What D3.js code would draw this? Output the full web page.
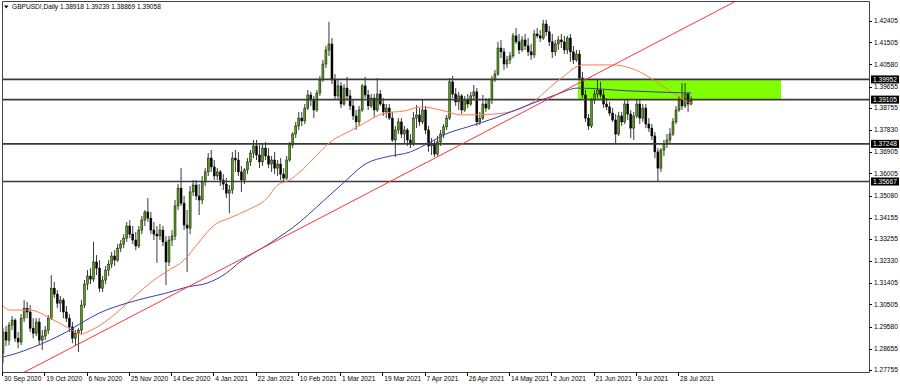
<!DOCTYPE html>
<meta charset="utf-8">
<style>
body { margin: 0; background: #fff; }
svg text { font-family: 'Liberation Sans', Arial, sans-serif; font-size: 6.6px; fill: #000; }
</style>
<body>
<script src="https://d3js.org/d3.v7.min.js"></script>
<script>
var width = 900
var height = 386

var symbol = 'GBPUSD!,Daily'

// daily bars, oldest first: open, high, low, close
var ohlc = [
  [1.2846, 1.2951, 1.2804, 1.2935], [1.2935, 1.2960, 1.2876, 1.2901], [1.2901, 1.2977, 1.2880, 1.2964],
  [1.2964, 1.3002, 1.2943, 1.2985], [1.2985, 1.2993, 1.2893, 1.2909], [1.2909, 1.2935, 1.2867, 1.2893],
  [1.2893, 1.3010, 1.2880, 1.2993], [1.2993, 1.3069, 1.2977, 1.3035], [1.3035, 1.3061, 1.2993, 1.3019],
  [1.3019, 1.3048, 1.2935, 1.2951], [1.2951, 1.2993, 1.2909, 1.2930], [1.2930, 1.2993, 1.2918, 1.2977],
  [1.2977, 1.2993, 1.2880, 1.2901], [1.2901, 1.2943, 1.2859, 1.2918], [1.2918, 1.2960, 1.2901, 1.2943],
  [1.2943, 1.3006, 1.2926, 1.2993], [1.2993, 1.3174, 1.2985, 1.3119], [1.3119, 1.3145, 1.3078, 1.3094],
  [1.3094, 1.3111, 1.3035, 1.3056], [1.3056, 1.3086, 1.3019, 1.3069], [1.3069, 1.3078, 1.2993, 1.3019],
  [1.3019, 1.3044, 1.2977, 1.2993], [1.2993, 1.3010, 1.2935, 1.2956], [1.2956, 1.2977, 1.2888, 1.2909],
  [1.2909, 1.2943, 1.2876, 1.2930], [1.2930, 1.2951, 1.2851, 1.2943], [1.2943, 1.3069, 1.2926, 1.3048],
  [1.3048, 1.3153, 1.3035, 1.3136], [1.3136, 1.3195, 1.3111, 1.3170], [1.3170, 1.3203, 1.3136, 1.3157],
  [1.3157, 1.3313, 1.3145, 1.3229], [1.3229, 1.3258, 1.3174, 1.3203], [1.3203, 1.3237, 1.3103, 1.3119],
  [1.3119, 1.3170, 1.3103, 1.3153], [1.3153, 1.3212, 1.3136, 1.3195], [1.3195, 1.3237, 1.3170, 1.3220],
  [1.3220, 1.3271, 1.3203, 1.3254], [1.3254, 1.3279, 1.3212, 1.3237], [1.3237, 1.3304, 1.3229, 1.3287],
  [1.3287, 1.3321, 1.3271, 1.3304], [1.3304, 1.3346, 1.3287, 1.3329], [1.3329, 1.3397, 1.3313, 1.3380],
  [1.3380, 1.3405, 1.3329, 1.3346], [1.3346, 1.3380, 1.3304, 1.3321], [1.3321, 1.3355, 1.3279, 1.3296],
  [1.3296, 1.3380, 1.3287, 1.3363], [1.3363, 1.3422, 1.3346, 1.3405], [1.3405, 1.3447, 1.3380, 1.3439],
  [1.3439, 1.3497, 1.3397, 1.3413], [1.3413, 1.3439, 1.3346, 1.3363], [1.3363, 1.3397, 1.3321, 1.3346],
  [1.3346, 1.3380, 1.3225, 1.3338], [1.3338, 1.3388, 1.3321, 1.3363], [1.3363, 1.3380, 1.3296, 1.3313],
  [1.3313, 1.3338, 1.3132, 1.3229], [1.3229, 1.3338, 1.3212, 1.3321], [1.3321, 1.3363, 1.3296, 1.3338],
  [1.3338, 1.3489, 1.3321, 1.3464], [1.3464, 1.3556, 1.3447, 1.3539], [1.3539, 1.3623, 1.3464, 1.3476],
  [1.3476, 1.3506, 1.3363, 1.3384], [1.3384, 1.3447, 1.3187, 1.3371], [1.3371, 1.3548, 1.3346, 1.3523],
  [1.3523, 1.3573, 1.3506, 1.3552], [1.3552, 1.3573, 1.3489, 1.3506], [1.3506, 1.3556, 1.3426, 1.3489],
  [1.3489, 1.3590, 1.3472, 1.3565], [1.3565, 1.3623, 1.3548, 1.3607], [1.3607, 1.3686, 1.3590, 1.3665],
  [1.3665, 1.3699, 1.3607, 1.3628], [1.3628, 1.3657, 1.3573, 1.3590], [1.3590, 1.3623, 1.3573, 1.3607],
  [1.3607, 1.3615, 1.3548, 1.3573], [1.3573, 1.3598, 1.3531, 1.3556], [1.3556, 1.3581, 1.3497, 1.3518],
  [1.3518, 1.3552, 1.3434, 1.3531], [1.3531, 1.3691, 1.3514, 1.3665], [1.3665, 1.3699, 1.3607, 1.3657],
  [1.3657, 1.3691, 1.3590, 1.3607], [1.3607, 1.3632, 1.3523, 1.3573], [1.3573, 1.3623, 1.3556, 1.3615],
  [1.3615, 1.3665, 1.3598, 1.3649], [1.3649, 1.3699, 1.3632, 1.3686], [1.3686, 1.3741, 1.3665, 1.3716],
  [1.3716, 1.3741, 1.3657, 1.3678], [1.3678, 1.3720, 1.3623, 1.3649], [1.3649, 1.3724, 1.3632, 1.3707],
  [1.3707, 1.3733, 1.3657, 1.3674], [1.3674, 1.3707, 1.3623, 1.3640], [1.3640, 1.3674, 1.3607, 1.3657],
  [1.3657, 1.3691, 1.3598, 1.3623], [1.3623, 1.3657, 1.3590, 1.3640], [1.3640, 1.3665, 1.3573, 1.3598],
  [1.3598, 1.3623, 1.3565, 1.3581], [1.3581, 1.3674, 1.3573, 1.3657], [1.3657, 1.3733, 1.3649, 1.3720],
  [1.3720, 1.3775, 1.3707, 1.3766], [1.3766, 1.3817, 1.3749, 1.3800], [1.3800, 1.3859, 1.3783, 1.3833],
  [1.3833, 1.3859, 1.3800, 1.3821], [1.3821, 1.3892, 1.3808, 1.3875], [1.3875, 1.3951, 1.3867, 1.3930],
  [1.3930, 1.3943, 1.3884, 1.3909], [1.3909, 1.3926, 1.3833, 1.3867], [1.3867, 1.3951, 1.3859, 1.3938],
  [1.3938, 1.4010, 1.3926, 1.3993], [1.3993, 1.4077, 1.3985, 1.4060], [1.4060, 1.4136, 1.4043, 1.4119],
  [1.4119, 1.4237, 1.4094, 1.4144], [1.4144, 1.4169, 1.3976, 1.3993], [1.3993, 1.4018, 1.3909, 1.3926],
  [1.3926, 1.3993, 1.3909, 1.3968], [1.3968, 1.3985, 1.3875, 1.3892], [1.3892, 1.3976, 1.3884, 1.3959],
  [1.3959, 1.4006, 1.3909, 1.3926], [1.3926, 1.3951, 1.3867, 1.3884], [1.3884, 1.3909, 1.3825, 1.3842],
  [1.3842, 1.3867, 1.3783, 1.3817], [1.3817, 1.3884, 1.3800, 1.3867], [1.3867, 1.3976, 1.3859, 1.3968],
  [1.3968, 1.4006, 1.3917, 1.3930], [1.3930, 1.3951, 1.3867, 1.3884], [1.3884, 1.3934, 1.3875, 1.3917],
  [1.3917, 1.3934, 1.3838, 1.3867], [1.3867, 1.4001, 1.3859, 1.3934], [1.3934, 1.3951, 1.3884, 1.3892],
  [1.3892, 1.3917, 1.3842, 1.3859], [1.3859, 1.3892, 1.3833, 1.3875], [1.3875, 1.3892, 1.3825, 1.3833],
  [1.3833, 1.3859, 1.3733, 1.3741], [1.3741, 1.3800, 1.3670, 1.3783], [1.3783, 1.3833, 1.3766, 1.3817],
  [1.3817, 1.3833, 1.3749, 1.3766], [1.3766, 1.3800, 1.3724, 1.3783], [1.3783, 1.3791, 1.3716, 1.3741],
  [1.3741, 1.3766, 1.3707, 1.3724], [1.3724, 1.3859, 1.3716, 1.3833], [1.3833, 1.3888, 1.3791, 1.3846],
  [1.3846, 1.3875, 1.3800, 1.3817], [1.3817, 1.3909, 1.3808, 1.3867], [1.3867, 1.3884, 1.3766, 1.3783],
  [1.3783, 1.3800, 1.3691, 1.3716], [1.3716, 1.3749, 1.3678, 1.3724], [1.3724, 1.3741, 1.3670, 1.3682],
  [1.3682, 1.3758, 1.3674, 1.3733], [1.3733, 1.3783, 1.3716, 1.3766], [1.3766, 1.3808, 1.3749, 1.3796],
  [1.3796, 1.3846, 1.3783, 1.3833], [1.3833, 1.4001, 1.3825, 1.3985], [1.3985, 1.4010, 1.3917, 1.3934],
  [1.3934, 1.3959, 1.3884, 1.3901], [1.3901, 1.3943, 1.3867, 1.3926], [1.3926, 1.3934, 1.3850, 1.3867],
  [1.3867, 1.3926, 1.3859, 1.3909], [1.3909, 1.3934, 1.3875, 1.3892], [1.3892, 1.3943, 1.3884, 1.3926],
  [1.3926, 1.3972, 1.3909, 1.3943], [1.3943, 1.3959, 1.3800, 1.3817], [1.3817, 1.3859, 1.3804, 1.3833],
  [1.3833, 1.3930, 1.3825, 1.3892], [1.3892, 1.3917, 1.3859, 1.3875], [1.3875, 1.3917, 1.3867, 1.3909],
  [1.3909, 1.4010, 1.3892, 1.3993], [1.3993, 1.4035, 1.3985, 1.4018], [1.4018, 1.4153, 1.4010, 1.4127],
  [1.4127, 1.4161, 1.4085, 1.4111], [1.4111, 1.4127, 1.4035, 1.4060], [1.4060, 1.4094, 1.4043, 1.4077],
  [1.4077, 1.4111, 1.4060, 1.4094], [1.4094, 1.4190, 1.4085, 1.4178], [1.4178, 1.4211, 1.4144, 1.4153],
  [1.4153, 1.4186, 1.4102, 1.4119], [1.4119, 1.4178, 1.4111, 1.4161], [1.4161, 1.4186, 1.4119, 1.4136],
  [1.4136, 1.4169, 1.4094, 1.4111], [1.4111, 1.4144, 1.4077, 1.4098], [1.4098, 1.4203, 1.4085, 1.4186],
  [1.4186, 1.4211, 1.4169, 1.4178], [1.4178, 1.4203, 1.4153, 1.4169], [1.4169, 1.4245, 1.4161, 1.4228],
  [1.4228, 1.4245, 1.4178, 1.4195], [1.4195, 1.4220, 1.4136, 1.4153], [1.4153, 1.4186, 1.4085, 1.4111],
  [1.4111, 1.4161, 1.4094, 1.4144], [1.4144, 1.4178, 1.4119, 1.4161], [1.4161, 1.4186, 1.4127, 1.4153],
  [1.4153, 1.4178, 1.4102, 1.4119], [1.4119, 1.4178, 1.4102, 1.4169], [1.4169, 1.4186, 1.4069, 1.4111],
  [1.4111, 1.4136, 1.4060, 1.4077], [1.4077, 1.4119, 1.4069, 1.4102], [1.4102, 1.4119, 1.3993, 1.4001],
  [1.4001, 1.4027, 1.3917, 1.3930], [1.3930, 1.3951, 1.3817, 1.3833], [1.3833, 1.3850, 1.3783, 1.3800],
  [1.3800, 1.3917, 1.3791, 1.3909], [1.3909, 1.3951, 1.3892, 1.3934], [1.3934, 1.3993, 1.3917, 1.3951],
  [1.3951, 1.3985, 1.3917, 1.3930], [1.3930, 1.3951, 1.3875, 1.3892], [1.3892, 1.3917, 1.3867, 1.3880],
  [1.3880, 1.3901, 1.3842, 1.3854], [1.3854, 1.3875, 1.3817, 1.3825], [1.3825, 1.3850, 1.3728, 1.3766],
  [1.3766, 1.3859, 1.3758, 1.3842], [1.3842, 1.3859, 1.3800, 1.3817], [1.3817, 1.3909, 1.3808, 1.3892],
  [1.3892, 1.3909, 1.3825, 1.3850], [1.3850, 1.3867, 1.3749, 1.3791], [1.3791, 1.3859, 1.3741, 1.3842],
  [1.3842, 1.3909, 1.3833, 1.3892], [1.3892, 1.3909, 1.3808, 1.3833], [1.3833, 1.3892, 1.3817, 1.3875],
  [1.3875, 1.3892, 1.3791, 1.3808], [1.3808, 1.3833, 1.3775, 1.3791], [1.3791, 1.3808, 1.3741, 1.3758],
  [1.3758, 1.3775, 1.3665, 1.3691], [1.3691, 1.3707, 1.3569, 1.3623], [1.3623, 1.3707, 1.3607, 1.3699],
  [1.3699, 1.3741, 1.3674, 1.3724], [1.3724, 1.3766, 1.3707, 1.3741], [1.3741, 1.3791, 1.3724, 1.3766],
  [1.3766, 1.3833, 1.3758, 1.3817], [1.3817, 1.3884, 1.3808, 1.3867], [1.3867, 1.3926, 1.3859, 1.3909],
  [1.3909, 1.3980, 1.3867, 1.3884], [1.3884, 1.3980, 1.3875, 1.3934], [1.3934, 1.3943, 1.3859, 1.3892],
  [1.38918, 1.39239, 1.38869, 1.39058]
]

// moving averages: [bar index, price]
var maOrange = [
  [0, 1.3044], [2.3, 1.3027], [9, 1.3027], [15.6, 1.2993], [21, 1.2956], [26, 1.2926], [28, 1.2935],
  [35.5, 1.2993], [43, 1.3078], [50, 1.3153], [54, 1.3187], [60, 1.3237], [65, 1.3313], [70, 1.3384],
  [75, 1.3413], [81, 1.3447], [87.5, 1.3497], [91, 1.3552], [95, 1.3573], [98.4, 1.3607], [103, 1.3665],
  [108, 1.3728], [115.6, 1.3783], [118.6, 1.3804], [126.6, 1.3854], [133, 1.3863], [138.5, 1.3880],
  [145, 1.3867], [152, 1.3846], [163, 1.3850], [174, 1.3888], [185, 1.4001], [192, 1.4056], [202, 1.4056],
  [211, 1.4027], [218, 1.3972], [224, 1.3922], [228, 1.3892]
]
var maBlue = [
  [0, 1.2830], [4.6, 1.2846], [10, 1.2871], [15.6, 1.2901], [21, 1.2935], [26.5, 1.2977], [32, 1.3015],
  [41, 1.3056], [48.7, 1.3082], [54, 1.3098], [61, 1.3124], [67.6, 1.3140], [74, 1.3182], [78.5, 1.3229],
  [88.5, 1.3308], [98.4, 1.3397], [104, 1.3460], [112.7, 1.3560], [120.6, 1.3644], [127, 1.3670],
  [135, 1.3691], [141, 1.3728], [147.5, 1.3770], [154, 1.3796], [163, 1.3833], [174, 1.3888],
  [183, 1.3930], [190.5, 1.3959], [207.4, 1.3947], [228, 1.3938]
]

var trendPoints = [[113.3, 1.3468], [230.9, 1.4245]]
var levels = [1.39952, 1.39105, 1.37248, 1.35667]
var zoneBars = [190.5, 257.8]
var zonePrices = [1.39952, 1.39105]

var priceTicks = [1.42405, 1.41505, 1.40580, 1.39655, 1.38755, 1.37830, 1.36905, 1.36005, 1.35080,
  1.34155, 1.33255, 1.32330, 1.31405, 1.30505, 1.29580, 1.28655, 1.27755]
var dateLabels = ['30 Sep 2020', '19 Oct 2020', '6 Nov 2020', '25 Nov 2020', '14 Dec 2020', '4 Jan 2021',
  '22 Jan 2021', '10 Feb 2021', '1 Mar 2021', '19 Mar 2021', '7 Apr 2021', '26 Apr 2021', '14 May 2021',
  '2 Jun 2021', '21 Jun 2021', '9 Jul 2021', '28 Jul 2021']
var barsPerLabel = 14

var plot = { left: 2, top: 1, right: 869, bottom: 372 }

var x = d3.scaleLinear().domain([0, ohlc.length - 1]).range([3, 691.1])
var y = d3.scaleLinear().domain([1.27755, 1.42405]).range([370, 21])
var fmt = d3.format('.5f')

var svg = d3.select('body').append('svg')
    .attr('width', width)
    .attr('height', height)

svg.append('defs').append('clipPath')
    .attr('id', 'plot-clip')
    .append('rect')
    .attr('x', plot.left)
    .attr('y', plot.top)
    .attr('width', plot.right - plot.left)
    .attr('height', plot.bottom - plot.top)

var chart = svg.append('g').attr('clip-path', 'url(#plot-clip)')

// support / resistance zone
chart.append('rect')
    .attr('x', x(zoneBars[0]))
    .attr('y', y(zonePrices[0]))
    .attr('width', x(zoneBars[1]) - x(zoneBars[0]))
    .attr('height', y(zonePrices[1]) - y(zonePrices[0]))
    .attr('fill', '#80ff00')

// candles
var candle = chart.selectAll('.candle')
    .data(ohlc)
    .enter().append('g')
    .attr('class', 'candle')

candle.append('line')
    .attr('x1', function (d, i) { return x(i) })
    .attr('x2', function (d, i) { return x(i) })
    .attr('y1', function (d) { return y(d[1]) })
    .attr('y2', function (d) { return y(d[2]) })
    .attr('stroke', '#222')
    .attr('stroke-width', 0.9)

candle.append('rect')
    .attr('x', function (d, i) { return x(i) - 1 })
    .attr('width', 2)
    .attr('y', function (d) { return y(Math.max(d[0], d[3])) })
    .attr('height', function (d) { return Math.max(0.8, Math.abs(y(d[0]) - y(d[3]))) })
    .attr('fill', function (d) { return d[3] >= d[0] ? '#55a015' : '#000' })
    .attr('stroke', '#000')
    .attr('stroke-width', 0.45)

// horizontal levels
chart.selectAll('.level')
    .data(levels)
    .enter().append('line')
    .attr('class', 'level')
    .attr('x1', plot.left)
    .attr('x2', plot.right)
    .attr('y1', function (d) { return y(d) })
    .attr('y2', function (d) { return y(d) })
    .attr('stroke', '#3a3a3a')
    .attr('stroke-width', 1.7)

// moving averages
var maLine = d3.line()
    .x(function (d) { return x(d[0]) })
    .y(function (d) { return y(d[1]) })
    .curve(d3.curveMonotoneX)

chart.append('path')
    .attr('d', maLine(maOrange))
    .attr('fill', 'none')
    .attr('stroke', '#ff7a4a')
    .attr('stroke-width', 1)

chart.append('path')
    .attr('d', maLine(maBlue))
    .attr('fill', 'none')
    .attr('stroke', '#3c3cb0')
    .attr('stroke-width', 1)

// trend line, extended both ways and clipped by the plot
var slope = (trendPoints[1][1] - trendPoints[0][1]) / (trendPoints[1][0] - trendPoints[0][0])
var tStart = -20
var tEnd = 300
chart.append('line')
    .attr('x1', x(tStart))
    .attr('y1', y(trendPoints[0][1] + (tStart - trendPoints[0][0]) * slope))
    .attr('x2', x(tEnd))
    .attr('y2', y(trendPoints[0][1] + (tEnd - trendPoints[0][0]) * slope))
    .attr('stroke', '#ff3535')
    .attr('stroke-width', 1)

// frame
svg.append('path')
    .attr('d', 'M' + (plot.left + 0.5) + ',' + plot.bottom + 'V' + (plot.top + 0.5) + 'H' + (plot.right + 0.5) + 'V' + (plot.bottom + 0.5) + 'H' + plot.left)
    .attr('fill', 'none')
    .attr('stroke', '#444')
    .attr('stroke-width', 1)

// price axis
var priceAxis = svg.append('g')
priceAxis.selectAll('line')
    .data(priceTicks)
    .enter().append('line')
    .attr('x1', plot.right)
    .attr('x2', plot.right + 3)
    .attr('y1', function (d) { return Math.round(y(d)) + 0.5 })
    .attr('y2', function (d) { return Math.round(y(d)) + 0.5 })
    .attr('stroke', '#000')
priceAxis.selectAll('text')
    .data(priceTicks)
    .enter().append('text')
    .attr('x', plot.right + 5)
    .attr('y', function (d) { return y(d) + 2.3 })
    .text(function (d) { return fmt(d) })

var levelTags = svg.selectAll('.level-tag')
    .data(levels)
    .enter().append('g')
    .attr('class', 'level-tag')
levelTags.append('rect')
    .attr('x', plot.right + 2)
    .attr('y', function (d) { return y(d) - 4 })
    .attr('width', 28)
    .attr('height', 8)
    .attr('fill', '#000')
levelTags.append('text')
    .attr('x', plot.right + 4)
    .attr('y', function (d) { return y(d) + 2.3 })
    .style('fill', '#fff')
    .text(function (d) { return fmt(d) })

// date axis
var dateAxis = svg.append('g')
dateAxis.selectAll('line')
    .data(dateLabels)
    .enter().append('line')
    .attr('x1', function (d, i) { return Math.round(x(i * barsPerLabel) - 1) + 0.5 })
    .attr('x2', function (d, i) { return Math.round(x(i * barsPerLabel) - 1) + 0.5 })
    .attr('y1', plot.bottom)
    .attr('y2', plot.bottom + 4)
    .attr('stroke', '#000')
dateAxis.selectAll('text')
    .data(dateLabels)
    .enter().append('text')
    .attr('x', function (d, i) { return x(i * barsPerLabel) + 1 })
    .attr('y', 380.5)
    .text(function (d) { return d })

// header
svg.append('path')
    .attr('d', 'M4,5.5H8.5L6.25,8.5Z')
    .attr('fill', '#000')
var last = ohlc[ohlc.length - 1]
svg.append('text')
    .attr('x', 12)
    .attr('y', 9)
    .text(symbol + '  ' + last.map(fmt).join(' '))
</script>
</body>
